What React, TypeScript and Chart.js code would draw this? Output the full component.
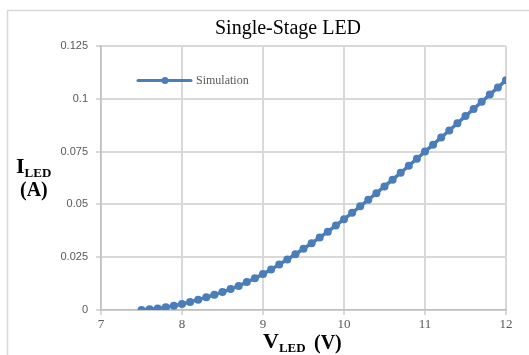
import React, { useEffect, useRef } from "react";
import { Chart, registerables } from "chart.js";

Chart.register(...registerables);

const voltages = [
  7.5, 7.6, 7.7, 7.8, 7.9, 8.0, 8.1, 8.2, 8.3, 8.4, 8.5, 8.6, 8.7, 8.8, 8.9,
  9.0, 9.1, 9.2, 9.3, 9.4, 9.5, 9.6, 9.7, 9.8, 9.9, 10.0, 10.1, 10.2, 10.3,
  10.4, 10.5, 10.6, 10.7, 10.8, 10.9, 11.0, 11.1, 11.2, 11.3, 11.4, 11.5,
  11.6, 11.7, 11.8, 11.9, 12.0,
];

const currents = [
  0.0, 0.0003, 0.0007, 0.0013, 0.002, 0.0028, 0.0038, 0.0049, 0.006, 0.0072,
  0.0085, 0.0099, 0.0114, 0.0132, 0.015, 0.017, 0.0192, 0.0215, 0.0239,
  0.0264, 0.029, 0.0316, 0.0343, 0.0371, 0.04, 0.043, 0.046, 0.0491, 0.0522,
  0.0553, 0.0585, 0.0617, 0.065, 0.0683, 0.0716, 0.075, 0.0783, 0.0817,
  0.085, 0.0884, 0.0918, 0.0952, 0.0986, 0.102, 0.1054, 0.1088,
];

const seriesName = "Simulation";
const chartTitle = "Single-Stage LED";
const yTickLabels = ["0", "0.025", "0.05", "0.075", "0.1", "0.125"];

const BLUE = "#4a7ebb";
const GRID = "#d9d9d9";
const TEXT_GRAY = "#595959";

const BIG = 'bold 22px "Liberation Serif", serif';
const SUB = 'bold 13px "Liberation Serif", serif';

function drawSubscripted(ctx: any, main: string, sub: string, rest: string, x: number, y: number, restX: number) {
  ctx.font = BIG;
  ctx.fillText(main, x, y);
  const w = ctx.measureText(main).width;
  ctx.font = SUB;
  ctx.fillText(sub, x + w, y + 4);
  if (rest) {
    ctx.font = 'bold 20px "Liberation Serif", serif';
    ctx.fillText(rest, restX, y + 1);
  }
}

const textPlugin = {
  id: "customText",
  beforeDraw(chart: any) {
    const ctx = chart.ctx;
    ctx.save();
    ctx.strokeStyle = GRID;
    ctx.lineWidth = 1.5;
    ctx.beginPath();
    ctx.moveTo(7.5, 360);
    ctx.lineTo(7.5, 10.5);
    ctx.lineTo(540, 10.5);
    ctx.stroke();
    ctx.restore();
  },
  afterDraw(chart: any) {
    const ctx = chart.ctx;
    ctx.save();
    ctx.fillStyle = "#000";
    ctx.textAlign = "center";
    ctx.textBaseline = "middle";
    ctx.font = '20px "Liberation Serif", serif';
    ctx.fillText(chartTitle, 288, 29);

    ctx.textAlign = "left";
    ctx.textBaseline = "alphabetic";
    drawSubscripted(ctx, "I", "LED", "", 16, 173, 0);
    ctx.font = 'bold 20px "Liberation Serif", serif';
    ctx.fillText("(A)", 20, 196);

    drawSubscripted(ctx, "V", "LED", "(V)", 263, 348, 314);

    // legend
    ctx.strokeStyle = BLUE;
    ctx.lineWidth = 3;
    ctx.lineCap = "round";
    ctx.beginPath();
    ctx.moveTo(138, 80.5);
    ctx.lineTo(191, 80.5);
    ctx.stroke();
    ctx.fillStyle = BLUE;
    ctx.beginPath();
    ctx.arc(165, 80.5, 3.5, 0, Math.PI * 2);
    ctx.fill();
    ctx.fillStyle = TEXT_GRAY;
    ctx.textBaseline = "middle";
    ctx.font = '12px "Liberation Serif", serif';
    ctx.fillText(seriesName, 196, 81);
    ctx.restore();
  },
};

export default function App() {
  const ref = useRef<HTMLCanvasElement>(null);
  useEffect(() => {
    document.body.style.margin = "0";
    const canvas = ref.current!;
    const chart = new Chart(canvas, {
      type: "line",
      data: {
        datasets: [
          {
            label: seriesName,
            data: voltages.map((v, i) => ({ x: v, y: currents[i] })),
            borderColor: BLUE,
            backgroundColor: BLUE,
            borderWidth: 3.5,
            pointRadius: 4,
            pointBorderWidth: 0,
            pointBackgroundColor: BLUE,
            tension: 0,
          },
        ],
      },
      options: {
        responsive: false,
        animation: false,
        layout: { padding: { left: 0, top: 46, right: 23, bottom: 0 } },
        plugins: {
          legend: { display: false },
          title: { display: false },
          tooltip: { enabled: false },
        },
        scales: {
          x: {
            type: "linear",
            min: 7,
            max: 12,
            ticks: {
              stepSize: 1,
              color: TEXT_GRAY,
              font: { family: '"Liberation Serif", serif', size: 13 },
              padding: 2,
            },
            grid: { color: GRID, lineWidth: 2, tickLength: 5 },
            border: { color: "#bfbfbf", width: 1.5 },
            afterFit(scale: any) {
              scale.height = 45;
            },
          },
          y: {
            type: "linear",
            min: 0,
            max: 0.125,
            ticks: {
              stepSize: 0.025,
              color: TEXT_GRAY,
              font: { family: '"Liberation Sans", sans-serif', size: 11 },
              padding: 8,
              callback: (_v: any, i: number) => yTickLabels[i],
            },
            grid: { color: GRID, lineWidth: 2, tickLength: 5 },
            border: { color: "#bfbfbf", width: 1.5 },
            afterFit(scale: any) {
              scale.width = 101;
            },
          },
        },
      },
      plugins: [textPlugin],
    });
    return () => chart.destroy();
  }, []);
  return (
    <canvas
      ref={ref}
      width={529}
      height={355}
      style={{ display: "block", width: 529, height: 355 }}
    />
  );
}
